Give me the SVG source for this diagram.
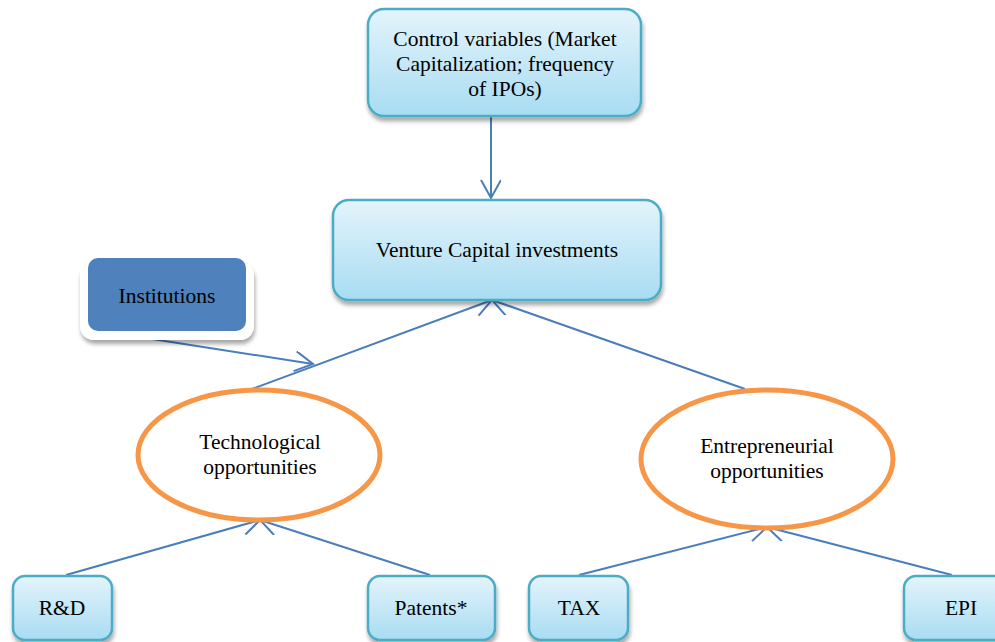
<svg xmlns="http://www.w3.org/2000/svg" width="995" height="642" viewBox="0 0 995 642">
<defs>
<linearGradient id="g" x1="0" y1="0" x2="0" y2="1">
<stop offset="0" stop-color="#e4f4fb"/>
<stop offset="1" stop-color="#a8dcf2"/>
</linearGradient>
<filter id="sh" x="-20%" y="-20%" width="140%" height="150%">
<feGaussianBlur in="SourceAlpha" stdDeviation="2"/>
<feOffset dx="1" dy="4"/>
<feComponentTransfer><feFuncA type="linear" slope="0.35"/></feComponentTransfer>
<feMerge><feMergeNode/><feMergeNode in="SourceGraphic"/></feMerge>
</filter>
<marker id="arr" markerWidth="24" markerHeight="24" refX="20" refY="10" orient="auto" markerUnits="userSpaceOnUse">
<path d="M2,0 L20,10 L2,20" fill="none" stroke="#4a7ebb" stroke-width="2"/>
</marker>
</defs>
<style>
.box{fill:url(#g);stroke:#4bacc6;stroke-width:2.5;filter:url(#sh)}
.ell{fill:#fff;stroke:#f79646;stroke-width:5}
.c{stroke:#4a7ebb;stroke-width:2;fill:none}
</style>
<rect width="995" height="642" fill="#fff"/>
<g id="connectors">
<line class="c" x1="491" y1="117" x2="491" y2="198" marker-end="url(#arr)"/>
<line class="c" x1="252" y1="389" x2="492" y2="300" marker-end="url(#arr)"/>
<line class="c" x1="745" y1="389" x2="492" y2="300" marker-end="url(#arr)"/>
<line class="c" x1="152" y1="339" x2="313" y2="364" marker-end="url(#arr)"/>
<line class="c" x1="66" y1="575" x2="260" y2="520" marker-end="url(#arr)"/>
<line class="c" x1="430" y1="575" x2="260" y2="520" marker-end="url(#arr)"/>
<line class="c" x1="579" y1="575" x2="767" y2="527" marker-end="url(#arr)"/>
<line class="c" x1="952" y1="575" x2="767" y2="527" marker-end="url(#arr)"/>
</g>
<g font-family="'Liberation Serif', 'DejaVu Serif', serif" font-size="21.5" text-anchor="middle" fill="#000">
<g id="control">
<rect class="box" x="368" y="9" width="273" height="107" rx="16"/>
<text x="505" y="46">Control variables (Market</text>
<text x="505" y="71">Capitalization; frequency</text>
<text x="505" y="96">of IPOs)</text>
</g>
<g id="vc">
<rect class="box" x="333" y="200" width="328" height="100" rx="16"/>
<text x="497" y="257">Venture Capital investments</text>
</g>
<g id="institutions">
<rect x="80" y="262" width="174" height="78" rx="14" fill="#fff" filter="url(#sh)"/>
<rect x="88" y="258" width="158" height="73" rx="10" fill="#4f81bd"/>
<text x="167" y="303">Institutions</text>
</g>
<g id="tech">
<ellipse class="ell" cx="259" cy="455" rx="121" ry="65"/>
<text x="260" y="449">Technological</text>
<text x="260" y="474">opportunities</text>
</g>
<g id="entre">
<ellipse class="ell" cx="767" cy="459" rx="126" ry="69"/>
<text x="767" y="453">Entrepreneurial</text>
<text x="767" y="478">opportunities</text>
</g>
<g id="rd">
<rect class="box" x="13" y="576" width="99" height="64" rx="12"/>
<text x="62" y="615">R&amp;D</text>
</g>
<g id="patents">
<rect class="box" x="368" y="576" width="127" height="64" rx="12"/>
<text x="431" y="615">Patents*</text>
</g>
<g id="tax">
<rect class="box" x="529" y="576" width="99" height="64" rx="12"/>
<text x="579" y="615">TAX</text>
</g>
<g id="epi">
<rect class="box" x="904" y="576" width="110" height="64" rx="12"/>
<text x="961" y="615">EPI</text>
</g>
</g>
</svg>
